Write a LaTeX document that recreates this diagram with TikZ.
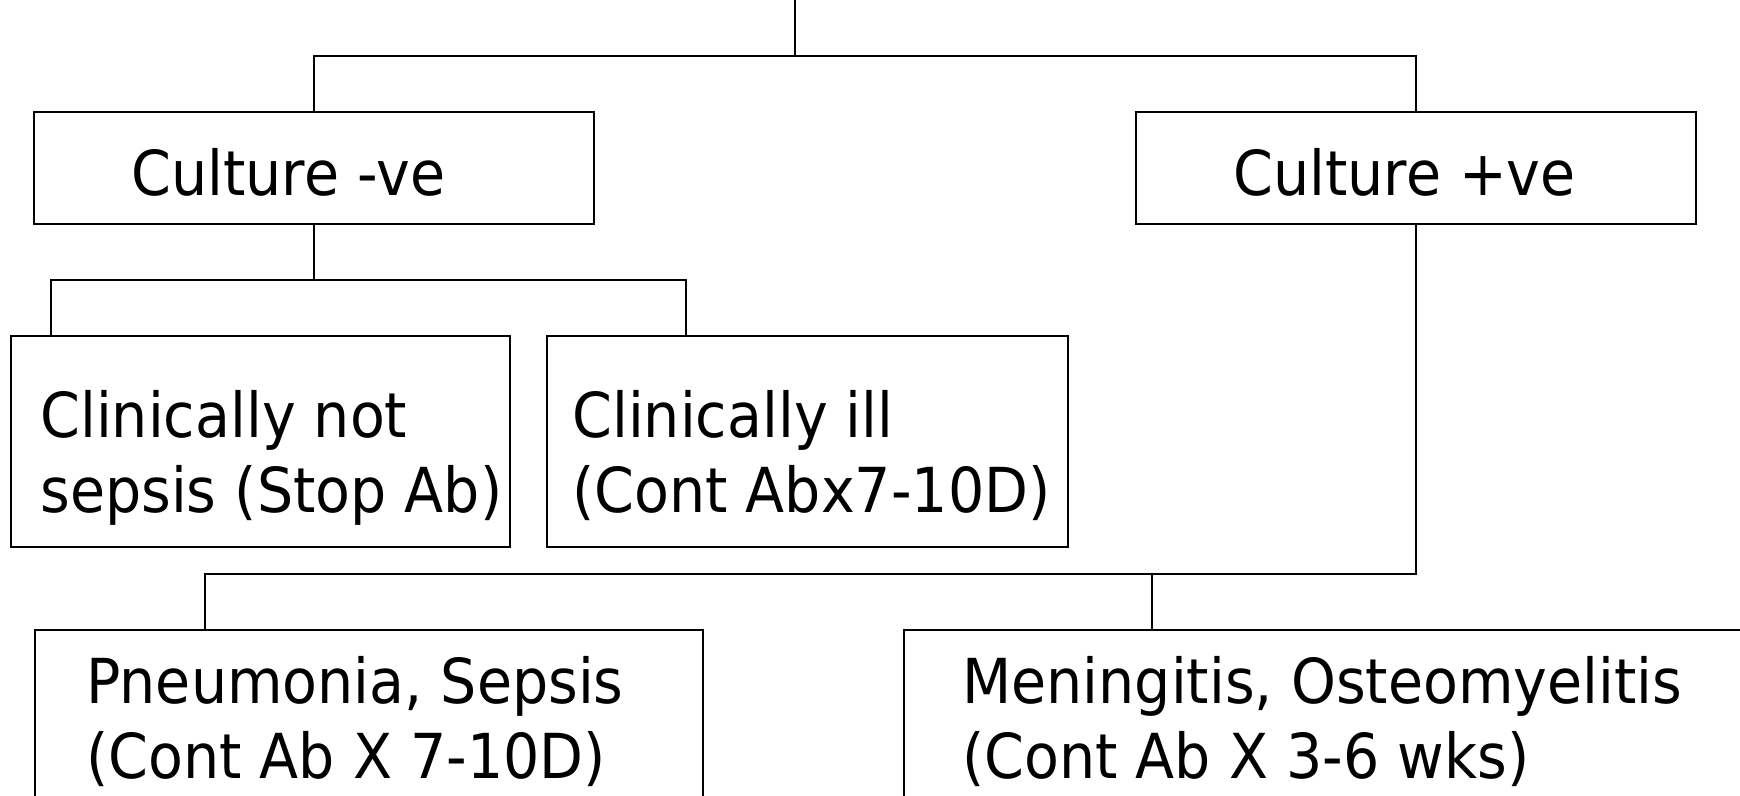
\documentclass[tikz,border=0pt]{standalone}
\usepackage{fontspec}
\setmainfont[FakeStretch=0.92]{DejaVu Sans}
\begin{document}
\begin{tikzpicture}[x=0.5pt,y=-0.5pt,
  box/.style={draw=black, line width=1.2pt, rectangle, inner sep=0pt},
  conn/.style={draw=black, line width=1.4pt},
  lbl/.style={anchor=base west, inner sep=0pt, align=left, font=\fontsize{31pt}{37.5pt}\selectfont}]
\useasboundingbox (0,0) rectangle (1740,796);
\clip (0,0) rectangle (1740,796);
% boxes
\node[box, minimum width=280pt, minimum height=56pt] (cneg) at (314,168) {};
\node[box, minimum width=280pt, minimum height=56pt] (cpos) at (1416,168) {};
\node[box, minimum width=249.5pt, minimum height=105.5pt] (cnot) at (260.5,441.5) {};
\node[box, minimum width=260.5pt, minimum height=105.5pt] (cill) at (807.5,441.5) {};
\node[box, minimum width=334pt, minimum height=150pt] (pneu) at (369,780) {};
\node[box, minimum width=548pt, minimum height=150pt] (meni) at (1452,780) {};
% texts (anchored at the baseline of the last line)
\node[lbl] (tneg) at (131,196) {Culture -ve};
\node[lbl] (tpos) at (1233,196) {Culture +ve};
\node[lbl] (tnot) at (40,512) {Clinically not\\sepsis (Stop Ab)};
\node[lbl] (till) at (572,512) {Clinically ill\\(Cont Abx7-10D)};
\node[lbl] (tpneu) at (86,778) {Pneumonia, Sepsis\\(Cont Ab X 7-10D)};
\node[lbl] (tmeni) at (962,778) {Meningitis, Osteomyelitis\\(Cont Ab X 3-6 wks)};
% connectors
\coordinate (top) at (795,0);
\coordinate (j1) at (795,56);
\coordinate (j1l) at (314,56);
\coordinate (j1r) at (1416,56);
\draw[conn] (top) -- (j1);
\draw[conn] (cneg.north) -- (j1l) -- (j1r) -- (cpos.north);
\coordinate (j2) at (314,280);
\coordinate (j2l) at (51,280);
\coordinate (j2r) at (686,280);
\draw[conn] (cneg.south) -- (j2);
\draw[conn] (j2l |- cnot.north) -- (j2l) -- (j2r) -- (j2r |- cill.north);
\coordinate (j3) at (1416,574);
\coordinate (j3l) at (205,574);
\coordinate (j3m) at (1152,574);
\draw[conn] (cpos.south) -- (j3) -- (j3l) -- (j3l |- pneu.north);
\draw[conn] (j3m) -- (j3m |- meni.north);
\end{tikzpicture}
\end{document}
